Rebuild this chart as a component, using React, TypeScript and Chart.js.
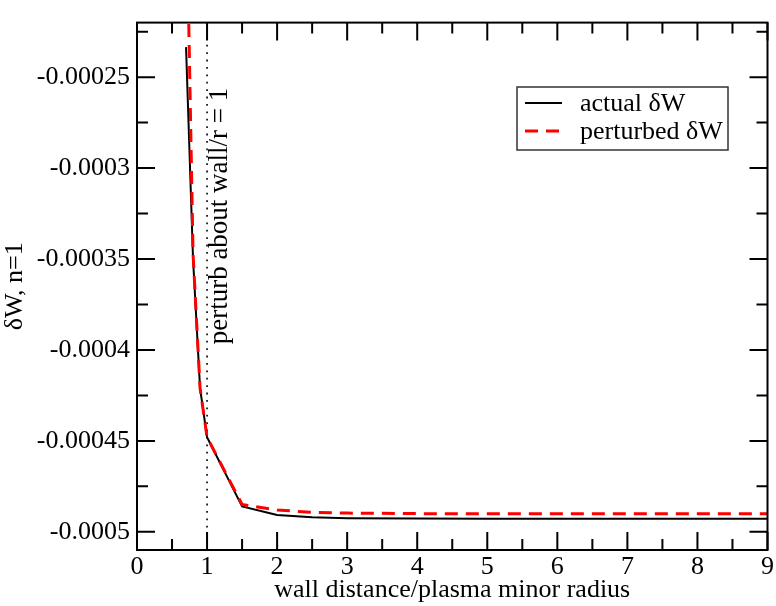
import React, { useEffect, useRef } from "react";
import { Chart, registerables } from "chart.js";

Chart.register(...registerables);

// ---- data ----
const actualX = [0.7, 0.8, 0.9, 1.0, 1.5, 2, 2.5, 3, 4, 5, 6, 7, 8, 9];
const actualY = [
  -0.0002335, -0.00035, -0.000421, -0.000448, -0.000486, -0.0004907, -0.000492,
  -0.0004925, -0.0004927, -0.0004928, -0.0004928, -0.0004928, -0.0004928, -0.0004928,
];
const perturbedX = [0.7, 0.8, 0.9, 1.0, 1.5, 2, 2.5, 3, 4, 5, 6, 7, 8, 9];
const perturbedY = [
  -0.00014, -0.000347, -0.000421, -0.000448, -0.000485, -0.000488, -0.0004893,
  -0.0004897, -0.00049, -0.00049, -0.00049, -0.00049, -0.00049, -0.00049,
];

const xTicks = [0, 1, 2, 3, 4, 5, 6, 7, 8, 9];
const xTickLabels = ["0", "1", "2", "3", "4", "5", "6", "7", "8", "9"];
const xMinorTicks = [0.5, 1.5, 2.5, 3.5, 4.5, 5.5, 6.5, 7.5, 8.5];
const yTicks = [-0.00025, -0.0003, -0.00035, -0.0004, -0.00045, -0.0005];
const yTickLabels = ["-0.00025", "-0.0003", "-0.00035", "-0.0004", "-0.00045", "-0.0005"];
const yMinorTicks = [-0.000225, -0.000275, -0.000325, -0.000375, -0.000425, -0.000475];

const xMin = 0;
const xMax = 9;
const yMin = -0.00051;
const yMax = -0.00022;

const markerX = 1; // perturb about wall/r = 1
const annotationText = "perturb about wall/r = 1";
const seriesNames = ["actual \u03b4W", "perturbed \u03b4W"];
const xTitle = "wall distance/plasma minor radius";
const yTitle = "\u03b4W, n=1";

const FONT = "'Liberation Serif', 'Times New Roman', serif";
const FS = 26;

const decorPlugin = {
  id: "decor",
  beforeDatasetsDraw(chart: any) {
    const { ctx, chartArea: a, scales } = chart;
    const xs = scales.x;
    ctx.save();
    ctx.strokeStyle = "#000";
    ctx.lineWidth = 1.6;
    ctx.setLineDash([1.8, 5.6]);
    const px = xs.getPixelForValue(markerX);
    ctx.beginPath();
    ctx.moveTo(px, a.top);
    ctx.lineTo(px, a.bottom);
    ctx.stroke();
    ctx.restore();
  },
  afterDraw(chart: any) {
    const { ctx, chartArea: a, scales } = chart;
    const xs = scales.x;
    const ys = scales.y;
    ctx.save();
    // frame
    ctx.strokeStyle = "#000";
    ctx.lineWidth = 2;
    ctx.setLineDash([]);
    ctx.strokeRect(a.left, a.top, a.right - a.left, a.bottom - a.top);
    // inward ticks
    const major = 18;
    const minor = 11;
    ctx.beginPath();
    const xt = (v: number, len: number) => {
      const p = xs.getPixelForValue(v);
      ctx.moveTo(p, a.bottom);
      ctx.lineTo(p, a.bottom - len);
      ctx.moveTo(p, a.top);
      ctx.lineTo(p, a.top + len);
    };
    const yt = (v: number, len: number) => {
      const p = ys.getPixelForValue(v);
      ctx.moveTo(a.left, p);
      ctx.lineTo(a.left + len, p);
      ctx.moveTo(a.right, p);
      ctx.lineTo(a.right - len, p);
    };
    xTicks.forEach((v) => xt(v, major));
    xMinorTicks.forEach((v) => xt(v, minor));
    yTicks.forEach((v) => yt(v, major));
    yMinorTicks.forEach((v) => yt(v, minor));
    ctx.stroke();

    // annotation text
    const px = xs.getPixelForValue(markerX);
    ctx.save();
    ctx.translate(px + 20, 216);
    ctx.rotate(-Math.PI / 2);
    ctx.fillStyle = "#000";
    ctx.font = `27px ${FONT}`;
    ctx.textAlign = "center";
    ctx.textBaseline = "alphabetic";
    ctx.fillText(annotationText, 0, 0);
    ctx.restore();

    // legend
    const lx = 517, ly = 87, lw = 211, lh = 63;
    ctx.fillStyle = "#fff";
    ctx.fillRect(lx, ly, lw, lh);
    ctx.strokeStyle = "#333";
    ctx.lineWidth = 1.5;
    ctx.strokeRect(lx, ly, lw, lh);
    const rows = [
      { y: ly + 16, color: "#000", width: 2, dash: [] as number[] },
      { y: ly + 44, color: "#ff0000", width: 3, dash: [13, 8] },
    ];
    rows.forEach((r, i) => {
      ctx.strokeStyle = r.color;
      ctx.lineWidth = r.width;
      ctx.setLineDash(r.dash);
      ctx.beginPath();
      ctx.moveTo(lx + 8, r.y);
      ctx.lineTo(lx + 45, r.y);
      ctx.stroke();
      ctx.setLineDash([]);
      ctx.fillStyle = "#000";
      ctx.font = `${FS}px ${FONT}`;
      ctx.textAlign = "left";
      ctx.textBaseline = "middle";
      ctx.fillText(seriesNames[i], lx + 63, r.y + 1);
    });
    ctx.restore();
  },
};

export default function App() {
  const ref = useRef<HTMLCanvasElement | null>(null);
  useEffect(() => {
    if (!ref.current) return;
    const chart = new Chart(ref.current, {
      type: "line",
      data: {
        datasets: [
          {
            label: seriesNames[0],
            data: actualX.map((x, i) => ({ x, y: actualY[i] })),
            borderColor: "#000",
            borderWidth: 2,
            pointRadius: 0,
            fill: false,
            tension: 0,
            order: 2,
            clip: 0,
          } as any,
          {
            label: seriesNames[1],
            data: perturbedX.map((x, i) => ({ x, y: perturbedY[i] })),
            borderColor: "#ff0000",
            borderWidth: 3,
            borderDash: [13, 8],
            pointRadius: 0,
            fill: false,
            tension: 0,
            order: 1,
            clip: 0,
          } as any,
        ],
      },
      options: {
        responsive: false,
        animation: false,
        layout: { padding: { left: 0, right: 5, top: 14, bottom: 0 } },
        plugins: { legend: { display: false }, tooltip: { enabled: false } },
        scales: {
          x: {
            type: "linear",
            min: xMin,
            max: xMax,
            afterBuildTicks: (s: any) => {
              s.ticks = xTicks.map((v) => ({ value: v }));
            },
            afterFit: (s: any) => {
              s.height = 56;
            },
            ticks: {
              callback: (v: any) => xTickLabels[xTicks.indexOf(Number(v))] ?? "",
              font: { family: FONT, size: FS },
              color: "#000",
              padding: 2,
              maxRotation: 0,
              autoSkip: false,
            },
            grid: { display: false, drawTicks: false },
            border: { display: false },
            title: {
              display: true,
              text: xTitle,
              font: { family: FONT, size: FS },
              color: "#000",
              padding: { top: 0, bottom: 0 },
            },
          },
          y: {
            type: "linear",
            min: yMin,
            max: yMax,
            afterBuildTicks: (s: any) => {
              s.ticks = yTicks.map((v) => ({ value: v }));
            },
            afterFit: (s: any) => {
              s.width = 137;
            },
            ticks: {
              callback: (v: any) => {
                const i = yTicks.findIndex((t) => Math.abs(t - Number(v)) < 1e-12);
                return i >= 0 ? yTickLabels[i] : "";
              },
              font: { family: FONT, size: FS },
              color: "#000",
              padding: 7,
              autoSkip: false,
            },
            grid: { display: false, drawTicks: false },
            border: { display: false },
            title: {
              display: true,
              text: yTitle,
              font: { family: FONT, size: FS },
              color: "#000",
              padding: { top: 0, bottom: 0 },
            },
          },
        },
      },
      plugins: [decorPlugin],
    } as any);
    return () => chart.destroy();
  }, []);
  return (
    <div style={{ position: "absolute", left: 0, top: 0, width: 776, height: 606, background: "#fff" }}>
      <canvas ref={ref} width={776} height={606} style={{ display: "block" }} />
    </div>
  );
}
